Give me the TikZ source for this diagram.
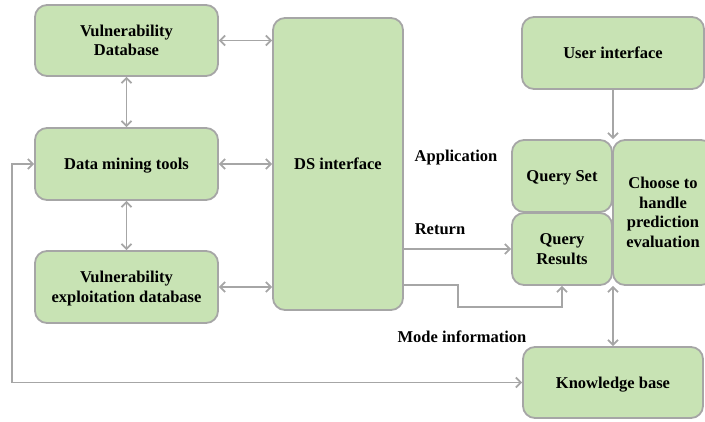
\documentclass[tikz,border=0pt]{standalone}
\usepackage{fontspec}
\setmainfont{Liberation Serif}
\usetikzlibrary{arrows.meta}
\definecolor{boxfill}{HTML}{C8E3B4}
\definecolor{boxline}{HTML}{A6A6A6}
\begin{document}
\begin{tikzpicture}[x=1pt,y=-1pt,
  box/.style={draw=boxline, fill=boxfill, line width=1.8pt, rounded corners=12pt,
    align=center, font=\fontsize{16.5}{19.5}\selectfont\bfseries, inner sep=2pt, text depth=0pt},
  conn/.style={draw=boxline, line width=1.8pt, arrows={Straight Barb[length=5pt,width=10pt]-Straight Barb[length=5pt,width=10pt]}},
  conn1/.style={draw=boxline, line width=1.8pt, -{Straight Barb[length=5pt,width=10pt]}},
  lbl/.style={font=\fontsize{16.5}{19.5}\selectfont\bfseries, inner sep=0pt}]
\useasboundingbox (0,0) rectangle (705,421);
\node[box, minimum width=183pt, minimum height=71pt] (vd) at (126.5,40.5) {Vulnerability\\Database};
\node[box, minimum width=183pt, minimum height=72pt] (dm) at (126.5,164) {Data mining tools};
\node[box, minimum width=183pt, minimum height=72pt] (ved) at (126.5,287) {Vulnerability\\exploitation database};
\node[box, minimum width=130pt, minimum height=292pt] (ds) at (338,164) {DS interface};
\node[box, minimum width=182pt, minimum height=72pt] (ui) at (613,53) {User interface};
\node[box, minimum width=100pt, minimum height=72pt] (qs) at (562,176) {Query Set};
\node[box, minimum width=100pt, minimum height=72pt] (qr) at (562,249) {Query\\Results};
\node[box, minimum width=100pt, minimum height=145pt] (ch) at (663,212.5) {Choose to\\handle\\prediction\\evaluation};
\node[box, minimum width=180pt, minimum height=71pt] (kb) at (613,382.5) {Knowledge base};

\node[lbl] (app) at (456,158) {Application};
\node[lbl] (ret) at (440,229) {Return};
\node[lbl] (mode) at (462,337) {Mode information};

\coordinate (lp) at (12,382.5);
\coordinate (r0) at (0,285);
\coordinate (c1) at (458,307);

\draw[conn] (vd.east) -- (vd.east -| ds.west);
\draw[conn] (dm.east) -- (dm.east -| ds.west);
\draw[conn] (ved.east) -- (ved.east -| ds.west);
\draw[conn] (vd.south) -- (dm.north);
\draw[conn] (dm.south) -- (ved.north);
\draw[conn] (dm.west) -- (dm.west -| lp) -- (lp) -- (kb.west);
\draw[conn1] (qr.west -| ds.east) -- (qr.west);
\draw[conn1] (r0 -| ds.east) -| (c1) -| (qr.south);
\draw[conn1] (ui.south) -- (ui.south |- qs.north);
\draw[conn] (kb.north) -- (kb.north |- qr.south);
\end{tikzpicture}
\end{document}
